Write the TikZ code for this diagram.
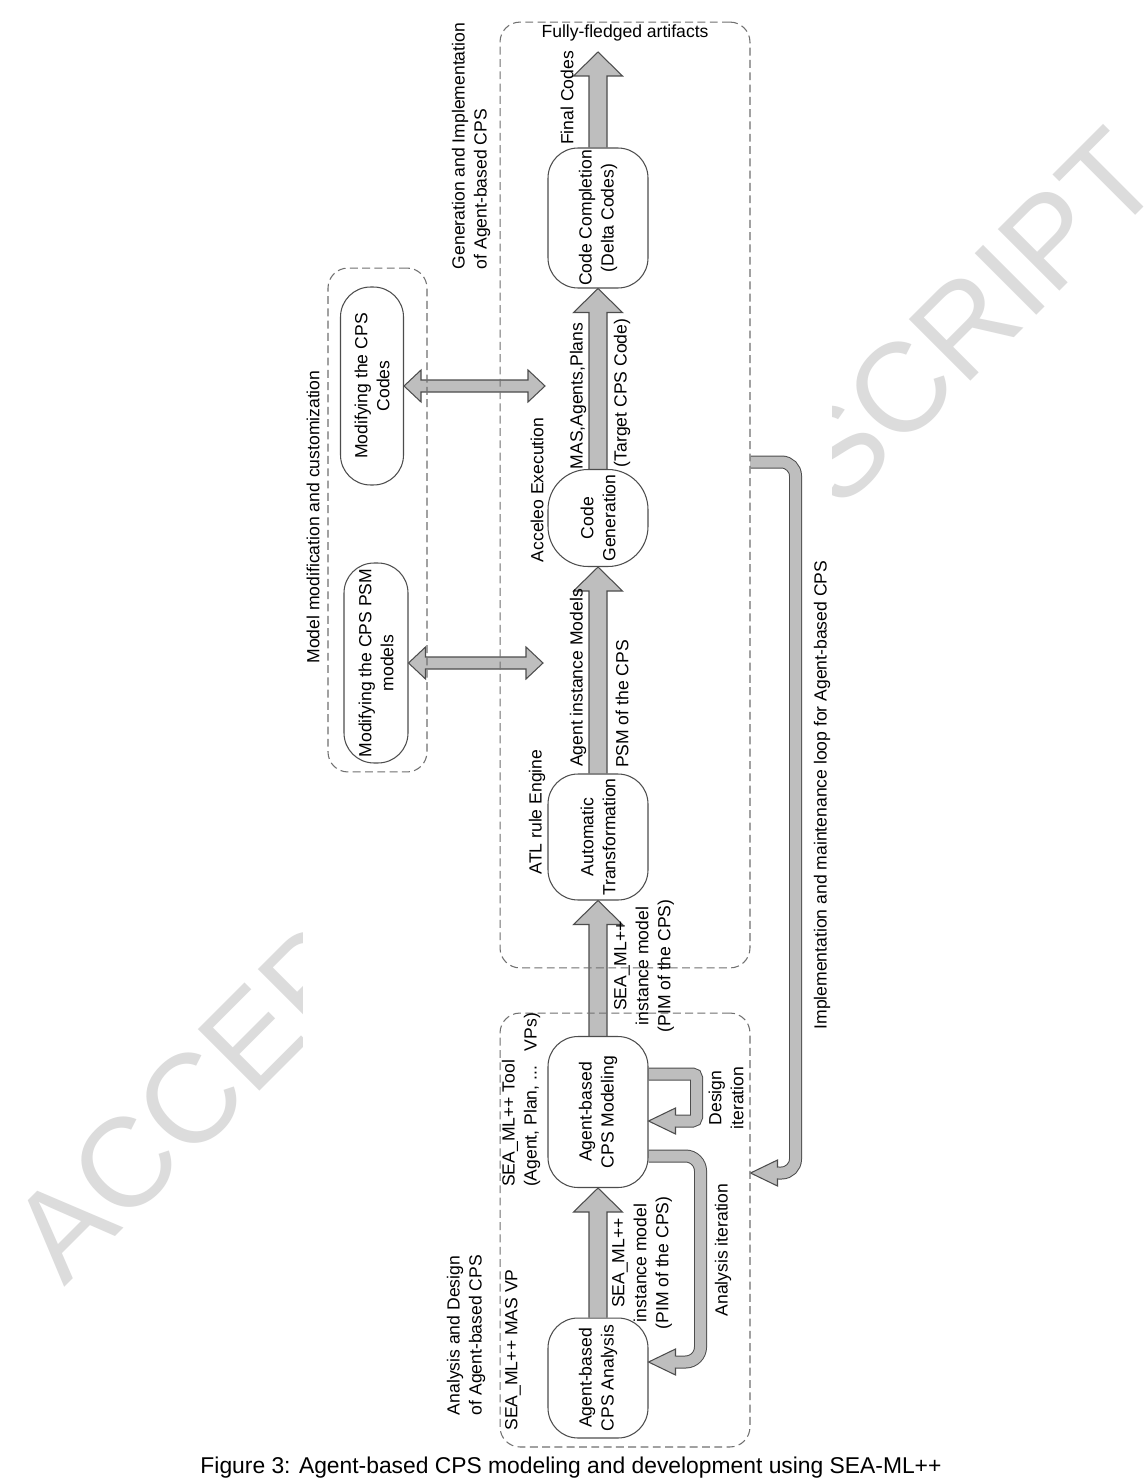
\documentclass[tikz,border=0pt]{standalone}
\usepackage{fontspec}
\setmainfont{Liberation Sans}
\usetikzlibrary{calc,backgrounds}
\definecolor{arrowC}{HTML}{BEBEBE}
\definecolor{edgeC}{HTML}{4D4D4D}
\definecolor{dashC}{HTML}{707070}
\definecolor{markC}{HTML}{DCDCDC}
\newcommand{\dfont}{\fontsize{10}{12.5}\selectfont}
% shaft half width, head half width, head length
\newcommand{\arrowdims}[3]{\def\shw{#1}\def\hhw{#2}\def\hl{#3}}
\newcommand{\fatarrow}[2]{%
  \draw[fat] ($(#1)!\shw!90:(#2)$)
    -- ($(#2)!\hl!(#1)!\shw!-90:(#1)$)
    -- ($(#2)!\hl!(#1)!\hhw!-90:(#1)$)
    -- (#2)
    -- ($(#2)!\hl!(#1)!\hhw!90:(#1)$)
    -- ($(#2)!\hl!(#1)!\shw!90:(#1)$)
    -- ($(#1)!\shw!-90:(#2)$);}
\newcommand{\dblarrow}[2]{%
  \draw[fat] (#1)
    -- ($(#1)!\hl!(#2)!\hhw!90:(#2)$)
    -- ($(#1)!\hl!(#2)!\shw!90:(#2)$)
    -- ($(#2)!\hl!(#1)!\shw!-90:(#1)$)
    -- ($(#2)!\hl!(#1)!\hhw!-90:(#1)$)
    -- (#2)
    -- ($(#2)!\hl!(#1)!\hhw!90:(#1)$)
    -- ($(#2)!\hl!(#1)!\shw!90:(#1)$)
    -- ($(#1)!\hl!(#2)!\shw!-90:(#2)$)
    -- ($(#1)!\hl!(#2)!\hhw!-90:(#2)$)
    -- cycle;}
\tikzset{
  stage/.style={draw=edgeC, line width=0.6pt, rounded corners=0.6cm, rotate=90,
                align=center, inner sep=0pt, minimum height=2cm, font=\dfont},
  grp/.style={draw=dashC, line width=0.6pt, dash pattern=on 4.5pt off 2.5pt,
              rounded corners=0.4cm, inner sep=0pt},
  lbl/.style={rotate=90, font=\dfont, inner sep=0pt},
  fat/.style={draw=edgeC, fill=arrowC, line width=0.6pt, line join=miter},
  loopout/.style={draw=edgeC, line width=0.26cm},
  loopin/.style={draw=arrowC, line width=0.22cm},
}

\begin{document}
\begin{tikzpicture}[x=0.02cm, y=-0.02cm]
\useasboundingbox (0,0) rectangle (1143,1480);

% groups
\node[grp, minimum width=5cm, minimum height=8.68cm] (grpA) at (625,1230) {};
\node[grp, minimum width=5cm, minimum height=18.92cm] (grpG) at (625,495) {};
\node[grp, minimum width=1.98cm, minimum height=10.08cm] (grpM) at (377.5,520) {};

% stages
\node[stage, minimum width=2.4cm] (ana) at (598,1378) {Agent-based\\CPS Analysis};
\node[stage, minimum width=3.02cm] (mod) at (598,1112) {Agent-based\\CPS Modeling};
\node[stage, minimum width=2.52cm] (atr) at (598,837) {Automatic\\Transformation};
\node[stage, minimum width=1.94cm, rounded corners=0.8cm] (cgen) at (598,518) {Code\\Generation};
\node[stage, minimum width=2.8cm] (ccomp) at (598,218) {Code Completion\\(Delta Codes)};
\node[stage, minimum width=3.96cm, minimum height=1.26cm] (mcode) at (372,386) {Modifying the CPS\\Codes};
\node[stage, minimum width=4cm, minimum height=1.28cm] (mpsm) at (376,663) {Modifying the CPS PSM\\models};

% labels
\node[lbl, align=left] (tAD) at (466,1335) {Analysis and Design\\of Agent-based CPS};
\node[lbl] (tVP) at (513,1350) {SEA\_ML++ MAS VP};
\node[lbl, align=left] (tTool) at (521,1100) {SEA\_ML++ Tool\\(Agent, Plan, ...\ \ \ VPs)};
\node[lbl, align=center] (tPIMa) at (642,1263) {SEA\_ML++\\instance model\\(PIM of the CPS)};
\node[lbl, align=center] (tPIMb) at (644,966) {SEA\_ML++\\instance model\\(PIM of the CPS)};
\node[lbl] (tATL) at (537,812) {ATL rule Engine};
\node[lbl] (tAIM) at (578,678) {Agent instance Models};
\node[lbl] (tPSM) at (622,704) {PSM of the CPS};
\node[lbl] (tACC) at (537,490) {Acceleo Execution};
\node[lbl] (tMAS) at (578,396) {MAS,Agents,Plans};
\node[lbl] (tTGT) at (622,393) {(Target CPS Code)};
\node[lbl] (tFin) at (567,98) {Final Codes};
\node[font=\dfont, inner sep=0pt] (tFull) at (625,33) {Fully-fledged artifacts};
\node[lbl, align=left] (tGen) at (471,146) {Generation and Implementation\\of Agent-based CPS};
\node[lbl] (tMod) at (313,517) {Model modification and customization};
\node[lbl, align=center] (tDes) at (726,1098) {Design\\iteration};
\node[lbl] (tAni) at (723,1250) {Analysis iteration};
\node[lbl] (tImp) at (822,795) {Implementation and maintenance loop for Agent-based CPS};
\node[font=\fontsize{13}{15}\selectfont, inner sep=0pt] (cap) at (571,1468) {Figure 3: Agent-based CPS modeling and development using SEA-ML++};

\begin{scope}[on background layer]
\fill[white] (0,0) rectangle (1143,1480);
\node[font=\fontsize{72}{72}\selectfont, text=markC, rotate=45] (mark) at (585,705) {ACCEPTED MANUSCRIPT};
\fill[white] (303,0) rectangle (832,1455);

% main flow
\arrowdims{0.18cm}{0.49cm}{0.48cm}
\fatarrow{ana.east}{mod.west}
\fatarrow{mod.east}{atr.west}
\fatarrow{atr.east}{cgen.west}
\fatarrow{cgen.east}{ccomp.west}
\coordinate (out) at (598,52);
\fatarrow{ccomp.east}{out}

% modification arrows
\arrowdims{0.12cm}{0.32cm}{0.34cm}
\coordinate (codeIn) at (545,386);
\coordinate (psmIn) at (543,663);
\dblarrow{mcode.south}{codeIn}
\dblarrow{mpsm.south}{psmIn}

% iteration loops
\arrowdims{0.12cm}{0.26cm}{0.54cm}
\coordinate (desBase) at ($(mod.south)+(27,9)$);
\coordinate (desTip) at ($(mod.south)+(0,9)$);
\draw[loopin, preaction={loopout}, rounded corners=0.08cm] ($(mod.south)+(0,-38)$) -- ++(48,0) -- ++(0,47) -- (desBase);
\fatarrow{desBase}{desTip}

\coordinate (anaBase) at ($(ana.south)+(27,-16)$);
\coordinate (anaTip) at ($(ana.south)+(0,-16)$);
\draw[loopin, preaction={loopout}, rounded corners=0.3cm] ($(mod.south)+(0,44)$) -| ($(ana.south)+(52,-16)$) -- (anaBase);
\fatarrow{anaBase}{anaTip}

\coordinate (impBase) at ($(grpA.east)+(28,-57)$);
\coordinate (impTip) at ($(grpA.east)+(0,-57)$);
\draw[loopin, preaction={loopout}, rounded corners=0.28cm] ($(grpG.east)+(0,-33)$) -| ($(grpA.east)+(45,-57)$) -- (impBase);
\fatarrow{impBase}{impTip}
\end{scope}
\end{tikzpicture}
\end{document}
